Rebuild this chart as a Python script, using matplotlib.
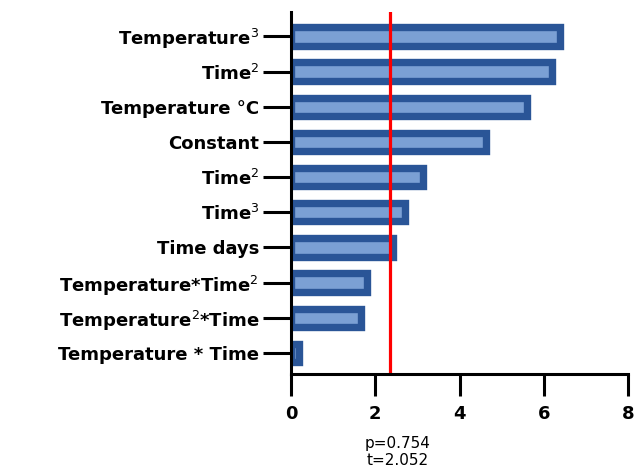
import matplotlib
matplotlib.use("Agg")
from matplotlib import pyplot as plt

# Data, top row first
labels = ["Temperature$^{3}$", "Time$^{2}$", "Temperature °C", "Constant",
          "Time$^{2}$", "Time$^{3}$", "Time days", "Temperature*Time$^{2}$",
          "Temperature$^{2}$*Time", "Temperature * Time"]
values = [6.39, 6.19, 5.61, 4.63, 3.13, 2.70, 2.41, 1.81, 1.67, 0.18]
t_crit = 2.35
note = "p=0.754\nt=2.052"

fig = plt.figure(figsize=(6.35, 4.67), dpi=100)
ax = fig.add_axes([0.4583, 0.199, 0.531, 0.775])

ypos = list(range(len(labels)))[::-1]
ax.barh(ypos, values, height=0.52, color="#7BA0D4", edgecolor="#2A5597",
        linewidth=5.3, zorder=2)
ax.axvline(t_crit, color="#FF0000", linewidth=2.3, zorder=3)

ax.set_xlim(0, 8)
ax.set_ylim(-0.6, 9.69)
ax.set_xticks([0, 2, 4, 6, 8])
ax.set_yticks(ypos)
ax.set_yticklabels(labels)

for s in ["top", "right"]:
    ax.spines[s].set_visible(False)
for s in ["left", "bottom"]:
    ax.spines[s].set_linewidth(2.2)
    ax.spines[s].set_zorder(4)

ax.tick_params(axis="y", length=20, width=2.2, pad=3, labelsize=13)
ax.tick_params(axis="x", length=16, width=2.2, pad=6, labelsize=13)
for lab in ax.get_yticklabels() + ax.get_xticklabels():
    lab.set_fontweight("bold")

ax.text(2.52, -2.35, note, ha="center", va="top", fontsize=11,
        linespacing=1.2, transform=ax.transData, clip_on=False)

fig.savefig("out.png", dpi=100)
